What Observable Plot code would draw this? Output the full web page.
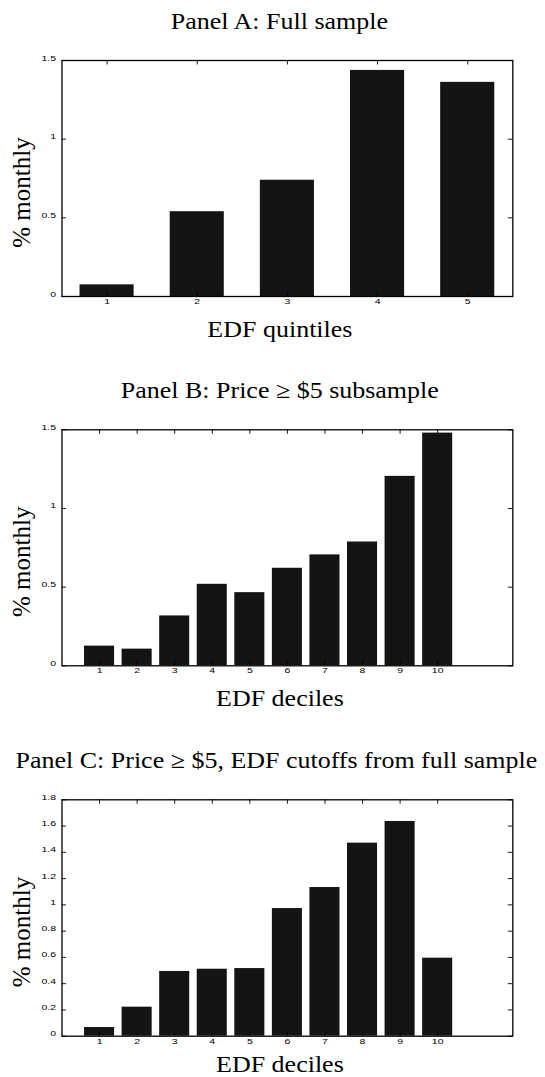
<!DOCTYPE html>
<html><head><meta charset="utf-8">
<script src="https://cdn.jsdelivr.net/npm/d3@7"></script>
<script src="https://cdn.jsdelivr.net/npm/@observablehq/plot@0.6"></script>
<style>body{margin:0;background:#fff} svg{display:block}</style>
</head><body><div id="chart"></div>
<script>
const quintiles = [1, 2, 3, 4, 5];
const returnsA = [0.074, 0.539, 0.739, 1.437, 1.361];
const deciles = [1, 2, 3, 4, 5, 6, 7, 8, 9, 10];
const returnsB = [0.125, 0.106, 0.317, 0.518, 0.465, 0.620, 0.705, 0.787, 1.204, 1.479];
const returnsC = [0.066, 0.221, 0.493, 0.510, 0.515, 0.972, 1.132, 1.470, 1.635, 0.594];
const yTicksAB = [0, 0.5, 1, 1.5];
const yTickLabelsAB = ["0", "0.5", "1", "1.5"];
const yTicksC = [0, 0.2, 0.4, 0.6, 0.8, 1, 1.2, 1.4, 1.6, 1.8];
const yTickLabelsC = ["0", "0.2", "0.4", "0.6", "0.8", "1", "1.2", "1.4", "1.6", "1.8"];
const titles = ["Panel A: Full sample", "Panel B: Price \u2265 $5 subsample", "Panel C: Price \u2265 $5, EDF cutoffs from full sample"];
const xLabels = ["EDF quintiles", "EDF deciles", "EDF deciles"];
const yLabel = "% monthly";

function stretchGroup(g, sx) {
  if (!g) return;
  g.querySelectorAll("text").forEach(el => {
    const x = +el.getAttribute("x") || 0, y = +el.getAttribute("y") || 0;
    el.removeAttribute("x"); el.removeAttribute("y");
    const t = el.getAttribute("transform") || "";
    el.setAttribute("transform", `${t} translate(${x},${y}) scale(${sx},1)`);
  });
}

function panel(o) {
  const W = 545, mL = 61.5, mR = 32.7, tl = 4.5;
  const innerW = W - mL - mR;
  const height = o.marginTop + o.innerHeight + o.marginBottom;
  const data = o.cats.map((c, i) => ({c, v: o.vals[i]}));
  const serif = "Liberation Serif, Times New Roman, serif";
  const sans = "Liberation Sans, Arial, sans-serif";
  const svg = Plot.plot({
    width: W, height, marginLeft: mL, marginRight: mR, marginTop: o.marginTop, marginBottom: o.marginBottom,
    x: {type: "linear", domain: o.xDomain, axis: null},
    y: {type: "linear", domain: o.yDomain, axis: null},
    style: {background: "white", overflow: "visible"},
    marks: [
      Plot.rect(data, {x1: d => d.c - o.barWidth / 2, x2: d => d.c + o.barWidth / 2, y1: 0, y2: "v", fill: "#141414"}),
      Plot.tickX(o.cats, {x: d => d, insetTop: o.innerHeight - tl, stroke: "black", strokeWidth: 0.9}),
      Plot.tickX(o.cats, {x: d => d, insetBottom: o.innerHeight - tl, stroke: "black", strokeWidth: 0.9}),
      Plot.tickY(o.yTicks, {y: d => d, insetLeft: innerW - tl, stroke: "black", strokeWidth: 0.9}),
      Plot.tickY(o.yTicks, {y: d => d, insetRight: innerW - tl, stroke: "black", strokeWidth: 0.9}),
      Plot.frame({stroke: "black", strokeWidth: 1.3}),
      Plot.text(o.cats, {x: d => d, frameAnchor: "bottom", dy: 7.5, text: d => String(d), fontSize: 7, fontFamily: sans, fill: "black"}),
      Plot.text(o.yTicks, {y: d => d, frameAnchor: "left", dx: -6, textAnchor: "end", text: (d, i) => o.yLabels[i], fontSize: 7, fontFamily: sans, fill: "black"}),
      Plot.text([o.title], {frameAnchor: "top", lineAnchor: "bottom", dy: -32, dx: o.titleDx, fontSize: 23, fontFamily: serif, fill: "black"}),
      Plot.text([o.xLabel], {frameAnchor: "bottom", lineAnchor: "bottom", dy: o.xLabelDy, dx: -7.5, fontSize: 23, fontFamily: serif, fill: "black"}),
      Plot.text([yLabel], {frameAnchor: "left", textAnchor: "middle", rotate: -90, dx: -40, dy: 14, fontSize: 25, fontFamily: serif, fill: "black"})
    ]
  });
  const groups = svg.querySelectorAll('g[aria-label="text"]');
  stretchGroup(groups[0], 1.5);
  stretchGroup(groups[1], 1.5);
  stretchGroup(groups[2], 1.13);
  stretchGroup(groups[3], 1.13);
  return svg;
}

const root = document.getElementById("chart");
root.appendChild(panel({cats: quintiles, vals: returnsA, xDomain: [0.5, 5.5], yDomain: [0, 1.5], yTicks: yTicksAB, yLabels: yTickLabelsAB, barWidth: 0.6, title: titles[0], xLabel: xLabels[0], marginTop: 60, innerHeight: 236, marginBottom: 49, titleDx: -8, xLabelDy: 40}));
root.appendChild(panel({cats: deciles, vals: returnsB, xDomain: [0, 12], yDomain: [0, 1.5], yTicks: yTicksAB, yLabels: yTickLabelsAB, barWidth: 0.8, title: titles[1], xLabel: xLabels[1], marginTop: 84.3, innerHeight: 236, marginBottom: 49.7, titleDx: -7.6, xLabelDy: 40}));
root.appendChild(panel({cats: deciles, vals: returnsC, xDomain: [0, 12], yDomain: [0, 1.8], yTicks: yTicksC, yLabels: yTickLabelsC, barWidth: 0.8, title: titles[2], xLabel: xLabels[2], marginTop: 84.3, innerHeight: 236.4, marginBottom: 41.3, titleDx: -11, xLabelDy: 36}));
</script>
</body></html>
